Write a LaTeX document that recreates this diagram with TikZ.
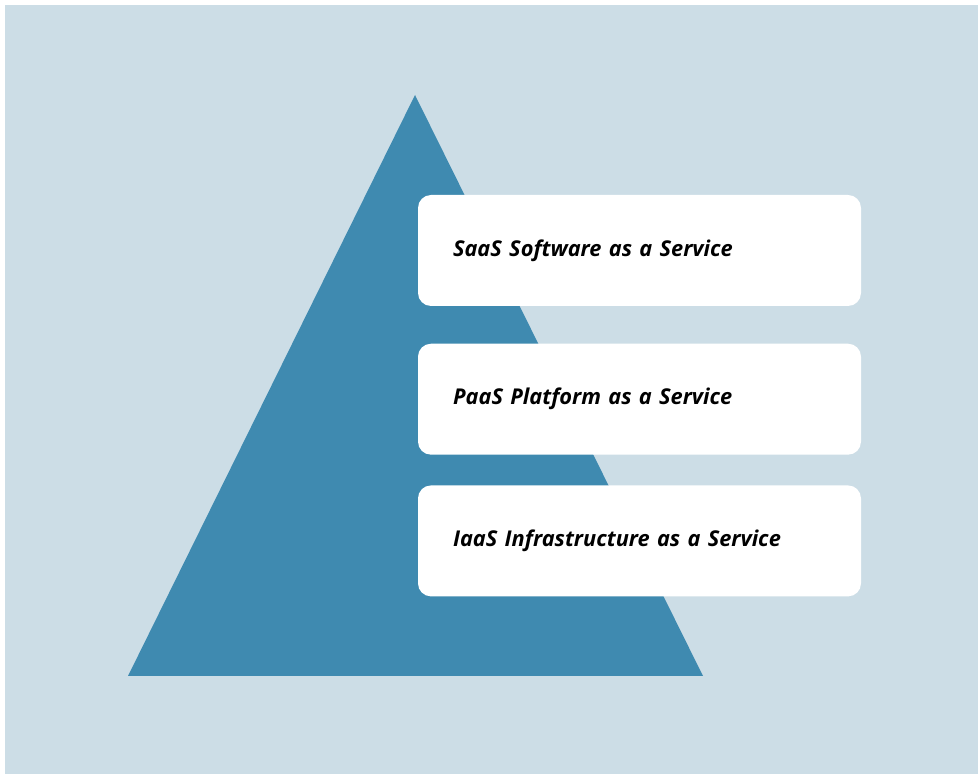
\documentclass[tikz,border=0pt]{standalone}
\usepackage{fontspec}
\setmainfont{Open Sans}
\usetikzlibrary{positioning}

\definecolor{backblue}{HTML}{CCDDE6}
\definecolor{pyramidblue}{HTML}{3F8AB0}

\begin{document}
\begin{tikzpicture}[
		layer/.style={
			rectangle,
			fill=white,
			rounded corners=0.26cm,
			minimum height=2.22cm,
			minimum width=8.86cm,
			text width=7.46cm,
			inner xsep=0.7cm,
			align=left,
			font=\fontsize{12.4}{15}\selectfont\bfseries\itshape
		},
		pyramid/.style={
			fill=pyramidblue
		}]

		\useasboundingbox (0,0) rectangle (19.56,-15.48);
		\fill[white] (0,0) rectangle (19.56,-15.48);
		\fill[backblue] (0.1,-0.1) rectangle (19.56,-15.48);

		%pyramid
		\coordinate (top) at (8.30,-1.90);
		\coordinate (left) at (2.56,-13.52);
		\coordinate (right) at (14.06,-13.52);
		\fill[pyramid] (top) -- (left) -- (right) -- cycle;

		%layers
		\node[layer] at (12.79,-5.01) (saas) {SaaS Software as a Service};
		\node[layer, below=0.74cm of saas] (paas) {PaaS Platform as a Service};
		\node[layer, below=0.60cm of paas] (iaas) {IaaS Infrastructure as a Service};

	\end{tikzpicture}
\end{document}
